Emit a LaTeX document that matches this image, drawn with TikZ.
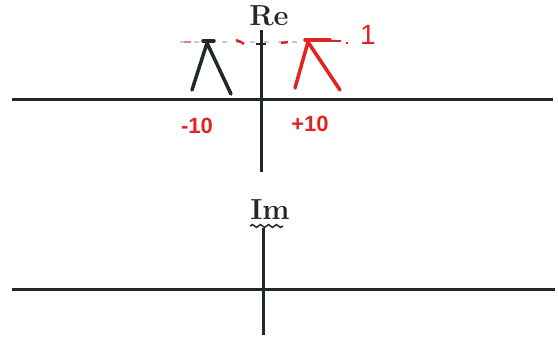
\documentclass[tikz,border=0pt]{standalone}
\usepackage{fontspec}
\newfontfamily\handfont{Liberation Sans}
\usepackage{xcolor}
\usetikzlibrary{decorations.pathmorphing}
\definecolor{axisgray}{HTML}{1F2A28}
\definecolor{penred}{HTML}{E02424}
\definecolor{fadegray}{HTML}{C8CCD0}

\begin{document}
\begin{tikzpicture}[x=1pt, y=-1pt,
 axis/.style={draw=axisgray, line width=3pt},
 peak/.style={line width=3.5pt, line cap=round, line join=round},
 axlabel/.style={font=\fontsize{29}{29}\selectfont\bfseries, text=axisgray, inner sep=0pt},
 ticklabel/.style={font=\handfont\fontsize{22}{22}\selectfont\bfseries, text=penred, inner sep=0pt}]
\useasboundingbox (0,0) rectangle (558,360);
% upper panel: real part
\coordinate (reW) at (12,99);
\coordinate (reE) at (553,99);
\coordinate (reS) at (261,172);
\coordinate (reN) at (261,30);
\draw[axis] (reW) -- (reE);
\draw[axis] (reS) -- (reN);
\draw[axisgray, line width=2pt] (256,44) -- (266,44);
\node[axlabel] (re) at (269,16) {Re};
% dashed level line
\draw[fadegray, line width=2pt, dash pattern=on 5pt off 9pt] (180,42) -- (300,42);
\draw[penred!60, line width=2.5pt] (184,42) -- (191,42);
\draw[penred, line width=2.5pt] (236,40) -- (241,42) -- (244,44);
\draw[penred, line width=2.5pt] (281,43) -- (288,42);
\draw[penred, line width=2.5pt] (330,41) -- (341,41);
\draw[penred, line width=2.5pt] (346,43) -- (348,43);
\node[ticklabel, font=\handfont\fontsize{28}{28}\selectfont] (one) at (368,35) {1};
% peaks
\draw[peak, axisgray] (192,90) -- (207,43) -- (231,94);
\draw[peak, axisgray] (203,41) -- (214,41);
\draw[peak, penred] (295,88) -- (308,42) -- (340,90);
\draw[peak, penred] (305,40) -- (330,40);
\node[ticklabel] (m10) at (197,126) {-10};
\node[ticklabel] (p10) at (310,124) {+10};
% lower panel: imaginary part
\coordinate (imW) at (12,289);
\coordinate (imE) at (555,289);
\coordinate (imS) at (263,335);
\coordinate (imN) at (263,228);
\draw[axis] (imW) -- (imE);
\draw[axis] (imS) -- (imN);
\node[axlabel] (im) at (270,210) {Im};
\draw[axisgray, line width=1.5pt, decorate,
 decoration={snake, amplitude=1.4pt, segment length=8pt}] (250,226) -- (283,226);
\end{tikzpicture}
\end{document}
